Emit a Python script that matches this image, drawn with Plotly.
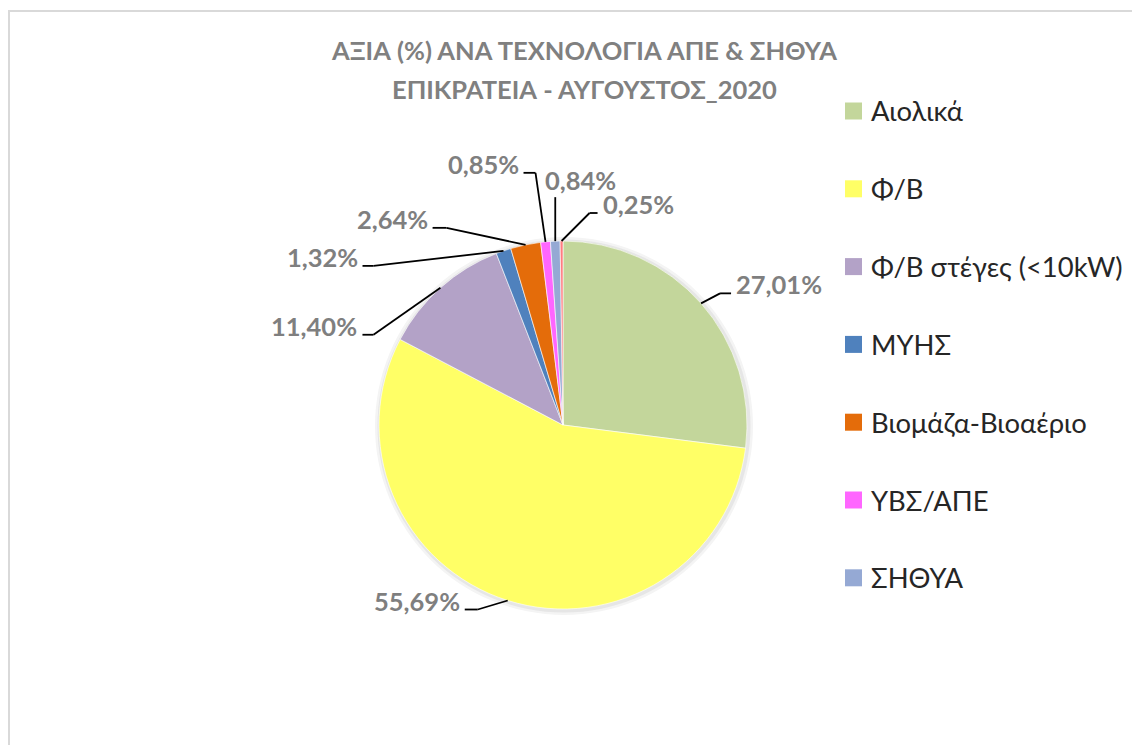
import math
import plotly.graph_objects as go

# ---- data ----
categories = ["Αιολικά", "Φ/Β", "Φ/Β στέγες (<10kW)", "ΜΥΗΣ",
              "Βιομάζα-Βιοαέριο", "ΥΒΣ/ΑΠΕ", "ΣΗΘΥΑ", "Λοιπά"]
shares = [27.01, 55.69, 11.40, 1.32, 2.64, 0.85, 0.84, 0.25]
legend_items = categories[:7]
title_lines = ["ΑΞΙΑ (%) ΑΝΑ ΤΕΧΝΟΛΟΓΙΑ ΑΠΕ & ΣΗΘΥΑ", "ΕΠΙΚΡΑΤΕΙΑ - ΑΥΓΟΥΣΤΟΣ_2020"]

# ---- style ----
colors = ["#C3D69B", "#FFFF66", "#B3A2C7", "#4F81BD",
          "#E46C0A", "#FF66FF", "#95A9D4", "#FF7C80"]
W, H = 1140, 745
OFF = 8  # page body margin
CX, CY, R = 563, 425, 184
FONT = "Lato, 'Open Sans', sans-serif"
# per label: elbow offset from slice edge point, horizontal stub length (signed)
label_style = [
    (19, -10, 11), (-30, 9, -13), (-67, 47, -11), (-130, 15, -11),
    (-79, -17, -14), (-10, -69, -12), (0, -44, 0), (28, -28, 8),
]

def X(x):
    return (x - OFF) / W

def Y(y):
    return 1 - (y - OFF) / H

fig = go.Figure()
# soft halo behind the pie
for extra, col in [(5, "#F4F4F4"), (2.5, "#E6E6E6")]:
    fig.add_trace(go.Pie(
        values=[1], labels=["_"], sort=False, textinfo="none", textposition="none",
        hoverinfo="skip", marker=dict(colors=[col], line=dict(width=0)),
        domain=dict(x=[X(CX - R - extra + 1), X(CX + R + extra + 1)],
                    y=[Y(CY + R + extra + 1), Y(CY - R - extra + 1)]),
        showlegend=False,
    ))
fig.add_trace(go.Pie(
    labels=categories, values=shares, sort=False, direction="clockwise",
    rotation=0, textinfo="none", textposition="none", hoverinfo="label+percent",
    marker=dict(colors=colors, line=dict(color="#FFFFFF", width=0.6)),
    domain=dict(x=[X(CX - R), X(CX + R)], y=[Y(CY + R), Y(CY - R)]),
    showlegend=False,
))

shapes = []
annotations = []
total = sum(shares)
cum = 0.0
for i, v in enumerate(shares):
    mid = (cum + v / 2) / total * 2 * math.pi
    cum += v
    ax = CX + R * math.sin(mid)
    ay = CY - R * math.cos(mid)
    dx, dy, stub = label_style[i]
    ex, ey = ax + dx, ay + dy
    shapes.append(dict(type="line", xref="paper", yref="paper",
                       x0=X(ax), y0=Y(ay), x1=X(ex), y1=Y(ey),
                       line=dict(color="#000000", width=1.8)))
    txt = f"{v:.2f}".replace(".", ",") + "%"
    if stub != 0:
        sx = ex + stub
        shapes.append(dict(type="line", xref="paper", yref="paper",
                           x0=X(ex), y0=Y(ey), x1=X(sx), y1=Y(ey),
                           line=dict(color="#000000", width=1.8)))
        tx = sx + (3 if stub > 0 else -3)
        xa = "left" if stub > 0 else "right"
        ty = ey - 9
    else:
        tx = ex - 12
        xa = "left"
        ty = ey - 17
    annotations.append(dict(x=X(tx), y=Y(ty), xref="paper", yref="paper",
                            text=f"<b>{txt}</b>", showarrow=False,
                            xanchor=xa, yanchor="middle",
                            font=dict(family=FONT, size=25.5, color="#7F7F7F")))

# title
for j, line in enumerate(title_lines):
    annotations.append(dict(x=X(584), y=Y(50 + j * 39), xref="paper", yref="paper",
                            text=f"<b>{line}</b>", showarrow=False,
                            xanchor="center", yanchor="middle",
                            font=dict(family=FONT, size=25.5, color="#808080")))

# manual legend
for k, name in enumerate(legend_items):
    ry = 111 + k * 77.8
    shapes.append(dict(type="rect", xref="paper", yref="paper",
                       x0=X(845), x1=X(862), y0=Y(ry + 8.5), y1=Y(ry - 8.5),
                       fillcolor=colors[k], line=dict(width=0)))
    annotations.append(dict(x=X(869), y=Y(ry), xref="paper", yref="paper",
                            text=name, showarrow=False, xanchor="left",
                            yanchor="middle",
                            font=dict(family=FONT, size=27.4, color="#262626")))

# chart border
shapes.append(dict(type="rect", xref="paper", yref="paper",
                   x0=X(9), x1=X(W + 20), y0=Y(H + 20), y1=Y(11),
                   line=dict(color="#D9D9D9", width=2), fillcolor="rgba(0,0,0,0)"))

fig.update_layout(width=W, height=H, margin=dict(l=0, r=0, t=0, b=0),
                  paper_bgcolor="white", plot_bgcolor="white",
                  shapes=shapes, annotations=annotations, showlegend=False)
fig.write_html("out.html")
